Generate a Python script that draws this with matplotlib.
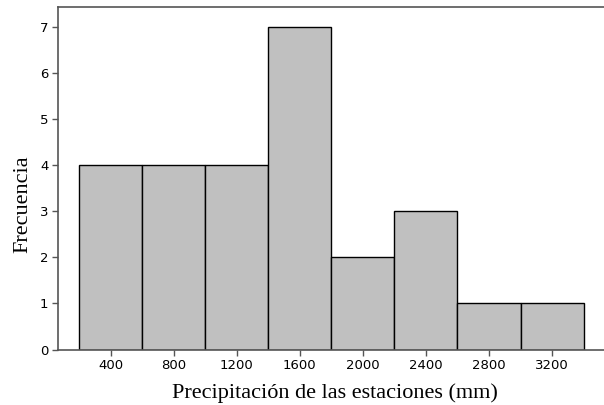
import matplotlib.pyplot as plt

# Datos del histograma
centros = [400, 800, 1200, 1600, 2000, 2400, 2800, 3200]
frecuencias = [4, 4, 4, 7, 2, 3, 1, 1]
ancho = 400
ticks_y = [0, 1, 2, 3, 4, 5, 6, 7]

fig = plt.figure(figsize=(6.04, 4.05), dpi=100)
ax = fig.add_axes([0.096, 0.137, 0.904, 0.845])

ax.bar(centros, frecuencias, width=ancho, color='#c0c0c0', edgecolor='black', linewidth=1.0, zorder=2)

ax.set_xlim(67, 3529)
ax.set_ylim(0, 7.43)
ax.set_xticks(centros)
ax.set_yticks(ticks_y)

for s in ['left', 'top', 'bottom']:
    ax.spines[s].set_color('#555555')
    ax.spines[s].set_linewidth(1.2)
ax.spines['right'].set_visible(False)

ax.tick_params(axis='both', direction='out', length=4, width=1, color='#555555', labelsize=9.5, pad=3)
for lab in ax.get_xticklabels() + ax.get_yticklabels():
    lab.set_family('DejaVu Sans')

ax.set_xlabel('Precipitación de las estaciones (mm)', fontsize=16, family='Liberation Serif')
ax.set_ylabel('Frecuencia', fontsize=16, family='Liberation Serif')
ax.xaxis.set_label_coords(0.507, -0.098)
ax.yaxis.set_label_coords(-0.046, 0.425)

fig.savefig('out.png', dpi=100)
